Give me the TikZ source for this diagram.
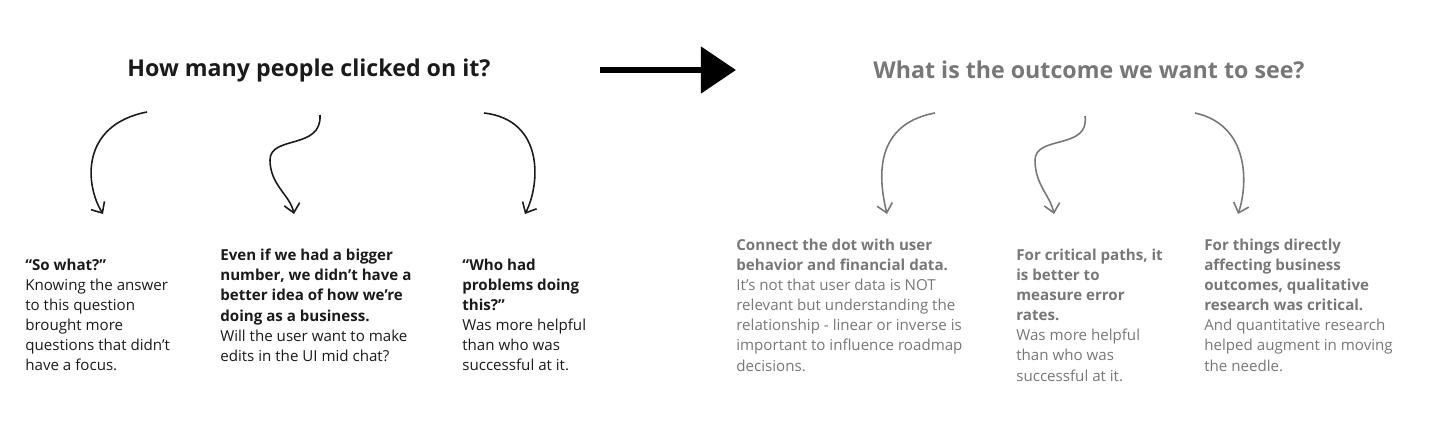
\documentclass[tikz,border=0pt]{standalone}
\usepackage{fontspec}
\setmainfont{Open Sans}
\usetikzlibrary{arrows.meta}
\definecolor{fade}{HTML}{777777}
\definecolor{ink}{HTML}{1A1A1A}
\tikzset{
  title/.style={font=\fontsize{13.2}{16}\selectfont\bfseries},
  blurb/.style={anchor=north west,align=left,inner sep=0pt,
    font=\fontsize{8.6}{11.4}\selectfont},
  swoop/.style={line width=0.9pt,-{Straight Barb[length=5pt,width=9pt]}},
}
\begin{document}
\begin{tikzpicture}[x=0.02cm,y=-0.02cm]
\useasboundingbox (0,0) rectangle (1440,436);
% titles
\node[title,text=ink] (ask) at (309,70) {How many people clicked on it?};
\node[title,text=fade] (goal) at (1089,70) {What is the outcome we want to see?};
\coordinate (mid1) at (600,70);
\coordinate (mid2) at (736,70);
\draw[line width=3.5pt,-{Triangle[length=20pt,width=26pt]}] (mid1) -- (mid2);
% left arrows
\coordinate (a1) at (147,112); \coordinate (b1) at (103,214);
\coordinate (a2) at (320,115); \coordinate (b2) at (294,214);
\coordinate (a3) at (484,113); \coordinate (b3) at (525,214);
\draw[swoop,ink] (a1) .. controls (80,125) and (85,185) .. (b1);
\draw[swoop,ink] (a2) .. controls (322,150) and (270,135) .. (270,160) .. controls (270,185) and (290,195) .. (b2);
\draw[swoop,ink] (a3) .. controls (545,120) and (540,185) .. (b3);
% right arrows
\coordinate (a4) at (935,113); \coordinate (b4) at (887,214);
\coordinate (a5) at (1085,116); \coordinate (b5) at (1054,214);
\coordinate (a6) at (1195,113); \coordinate (b6) at (1238,214);
\draw[swoop,fade] (a4) .. controls (870,125) and (880,185) .. (b4);
\draw[swoop,fade] (a5) .. controls (1090,150) and (1035,135) .. (1035,160) .. controls (1035,185) and (1050,195) .. (b5);
\draw[swoop,fade] (a6) .. controls (1250,125) and (1248,185) .. (b6);
% texts
\node[blurb,text=ink] (t1) at (25,259) {\textbf{“So what?”}\\Knowing the answer\\to this question\\brought more\\questions that didn’t\\have a focus.};
\node[blurb,text=ink] (t2) at (220,249) {\textbf{Even if we had a bigger}\\\textbf{number, we didn’t have a}\\\textbf{better idea of how we’re}\\\textbf{doing as a business.}\\Will the user want to make\\edits in the UI mid chat?};
\node[blurb,text=ink] (t3) at (462,259) {\textbf{“Who had}\\\textbf{problems doing}\\\textbf{this?”}\\Was more helpful\\than who was\\successful at it.};
\node[blurb,text=fade] (t4) at (736,239) {\textbf{Connect the dot with user}\\\textbf{behavior and financial data.}\\It’s not that user data is NOT\\relevant but understanding the\\relationship - linear or inverse is\\important to influence roadmap\\decisions.};
\node[blurb,text=fade] (t5) at (1016,249) {\textbf{For critical paths, it}\\\textbf{is better to}\\\textbf{measure error}\\\textbf{rates.}\\Was more helpful\\than who was\\successful at it.};
\node[blurb,text=fade] (t6) at (1204,239) {\textbf{For things directly}\\\textbf{affecting business}\\\textbf{outcomes, qualitative}\\\textbf{research was critical.}\\And quantitative research\\helped augment in moving\\the needle.};
\end{tikzpicture}
\end{document}
